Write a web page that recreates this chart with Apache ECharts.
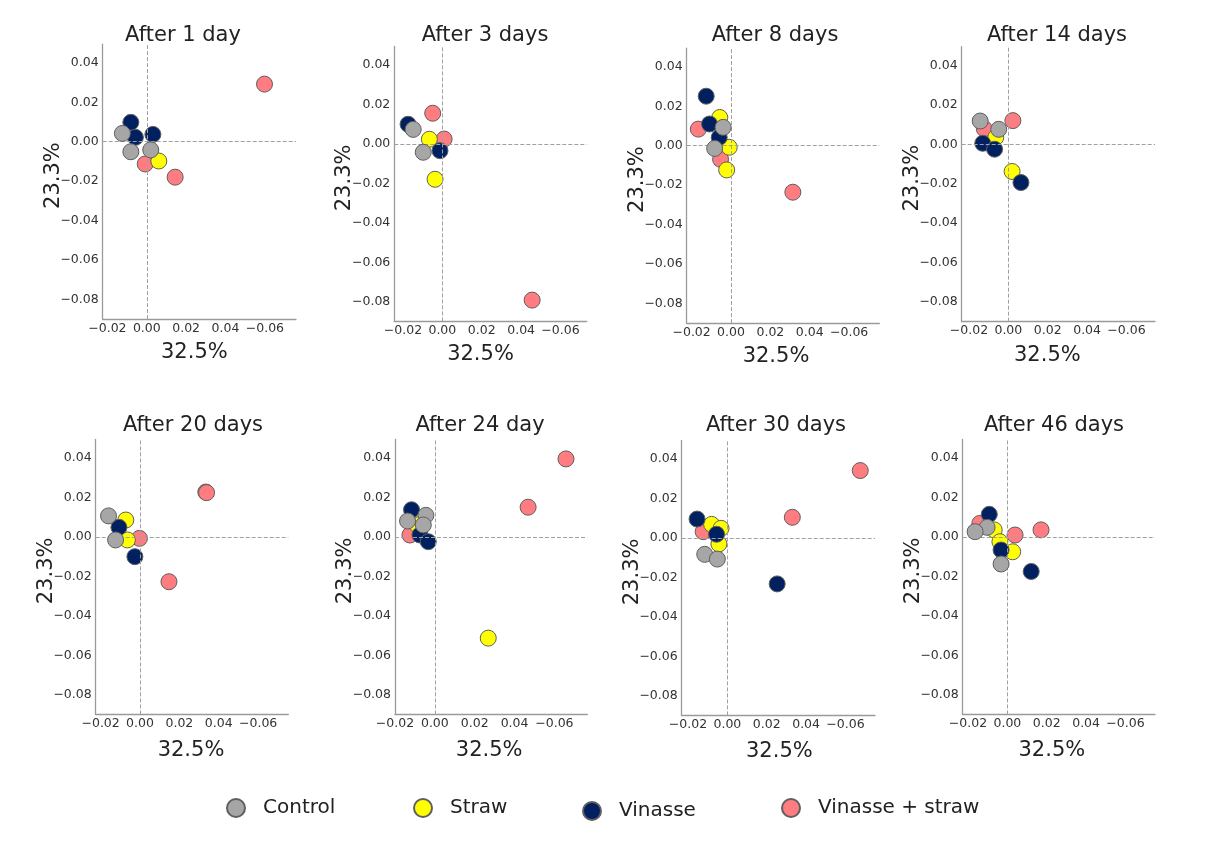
<!DOCTYPE html>
<html>
<head>
<meta charset="utf-8">
<script src="https://cdn.jsdelivr.net/npm/echarts@6/dist/echarts.min.js"></script>
<style>
  html, body { margin: 0; padding: 0; background: #ffffff; }
  #chart { width: 1209px; height: 841px; }
</style>
</head>
<body>
<div id="chart"></div>
<script>
// PCA scores of the four treatments, one panel per sampling day
const panelTitles = ['After 1 day', 'After 3 days', 'After 8 days', 'After 14 days',
                     'After 20 days', 'After 24 day', 'After 30 days', 'After 46 days'];
const groups = ['Control', 'Straw', 'Vinasse', 'Vinasse + straw'];
const xAxisName = '32.5%';
const yAxisName = '23.3%';
const xTickValues = [-0.02, 0, 0.02, 0.04, 0.06];
const xTickLabels = ['\u22120.02', '0.00', '0.02', '0.04', '\u22120.06'];
const yTickValues = [0.04, 0.02, 0, -0.02, -0.04, -0.06, -0.08];
const yTickLabels = ['0.04', '0.02', '0.00', '\u22120.02', '\u22120.04', '\u22120.06', '\u22120.08'];

// [PC1, PC2] per replicate, one list per panel (same order as panelTitles)
const control = [
  [[-0.0124, 0.0042], [-0.0081, -0.0051], [0.0020, -0.0042]],
  [[-0.0148, 0.0074], [-0.0097, -0.0042]],
  [[-0.0040, 0.0093], [-0.0083, -0.0014]],
  [[-0.0143, 0.0118], [-0.0049, 0.0076]],
  [[-0.0160, 0.0107], [-0.0124, -0.0015]],
  [[-0.0137, 0.0081], [-0.0045, 0.0110], [-0.0058, 0.0061]],
  [[-0.0115, -0.0083], [-0.0051, -0.0107]],
  [[-0.0103, 0.0049], [-0.0164, 0.0027], [-0.0032, -0.0137]]
];
const straw = [
  [[0.0061, -0.0098]],
  [[-0.0066, 0.0024], [-0.0037, -0.0179]],
  [[-0.0057, 0.0143], [-0.0009, -0.0008], [-0.0022, -0.0123]],
  [[-0.0064, 0.0035], [0.0019, -0.0138]],
  [[-0.0072, 0.0086], [-0.0064, -0.0015]],
  [[-0.0088, 0.0061], [0.0268, -0.0513]],
  [[-0.0080, 0.0069], [-0.0032, 0.0049], [-0.0043, -0.0030]],
  [[-0.0067, 0.0036], [-0.0038, -0.0024], [0.0027, -0.0075]]
];
const vinasse = [
  [[-0.0081, 0.0098], [-0.0058, 0.0022], [0.0031, 0.0037]],
  [[-0.0174, 0.0100], [-0.0012, -0.0034]],
  [[-0.0126, 0.0251], [-0.0109, 0.0110], [-0.0060, 0.0042]],
  [[-0.0130, 0.0005], [-0.0070, -0.0025], [0.0064, -0.0194]],
  [[-0.0107, 0.0049], [-0.0026, -0.0100]],
  [[-0.0117, 0.0138], [-0.0075, 0.0010], [-0.0033, -0.0024]],
  [[-0.0154, 0.0096], [-0.0055, 0.0019], [0.0253, -0.0233]],
  [[-0.0092, 0.0115], [-0.0032, -0.0066], [0.0121, -0.0175]]
];
const vinasseStraw = [
  [[0.0598, 0.0292], [-0.0008, -0.0113], [0.0144, -0.0180]],
  [[-0.0049, 0.0156], [0.0009, 0.0025], [0.0456, -0.0792]],
  [[-0.0166, 0.0084], [-0.0053, -0.0069], [0.0314, -0.0236]],
  [[-0.0122, 0.0078], [0.0023, 0.0120]],
  [[0.0334, 0.0228], [0.0338, 0.0225], [-0.0003, -0.0007], [0.0147, -0.0227]],
  [[0.0658, 0.0396], [0.0468, 0.0151], [-0.0125, 0.0010]],
  [[0.0675, 0.0342], [0.0330, 0.0105], [-0.0123, 0.0032]],
  [[-0.0140, 0.0069], [0.0039, 0.0010], [0.0171, 0.0036]]
];
const groupData = [control, straw, vinasse, vinasseStraw];

// ---- presentation ----
const FONT = 'DejaVu Sans';
const groupColors = ['#a6a6a6', '#ffff00', '#002060', '#ff7c80'];
const groupZ = [5, 3, 4, 2];

// plot boxes: pixel rectangle of each panel plus its axis window
const panelBoxes = [
  { left: 102.7, top: 44.1,  width: 193.3, xMin: -0.0224, xMax: 0.0758, titleX: 178,  nameDx: -5 },
  { left: 394.3, top: 46.4,  width: 192.4, xMin: -0.0244, xMax: 0.0733, titleX: 480,  nameDx: -10 },
  { left: 686.7, top: 48.1,  width: 192.6, xMin: -0.0225, xMax: 0.0753, titleX: 770,  nameDx: -7 },
  { left: 961.7, top: 46.7,  width: 193.3, xMin: -0.0237, xMax: 0.0745, titleX: 1052, nameDx: -11 },
  { left: 95.7,  top: 439.4, width: 192.6, xMin: -0.0225, xMax: 0.0753, titleX: 188,  nameDx: -1 },
  { left: 395,   top: 439.4, width: 192.3, xMin: -0.0200, xMax: 0.0765, titleX: 475,  nameDx: -2 },
  { left: 681.7, top: 440.4, width: 193.3, xMin: -0.0232, xMax: 0.0750, titleX: 771,  nameDx: 1 },
  { left: 962.7, top: 439.4, width: 192.3, xMin: -0.0227, xMax: 0.0750, titleX: 1049, nameDx: -7 }
];
const Y_MIN = -0.09, Y_MAX = 0.0495, PLOT_H = 275;
const titleTops = [20, 410];
const xNameGaps = [23, 26];
const legendLefts = [221, 408, 577, 776];
const legendTops = [793, 793, 796, 793];

function tickText(values, labels, v) {
  const i = values.findIndex(t => Math.abs(t - v) < 1e-9);
  return i < 0 ? '' : labels[i];
}

const grids = [], xAxes = [], yAxes = [], titles = [], series = [];
panelBoxes.forEach((b, p) => {
  const row = p < 4 ? 0 : 1;
  grids.push({ left: b.left, top: b.top, width: b.width, height: PLOT_H });
  const axisLine = { show: true, onZero: false, lineStyle: { color: '#9a9a9a', width: 1.3 } };
  xAxes.push({
    type: 'value', gridIndex: p, min: b.xMin, max: b.xMax,
    axisLine: axisLine, axisTick: { show: false }, splitLine: { show: false },
    axisLabel: {
      customValues: xTickValues, margin: 3, fontSize: 12.5, color: '#333', fontFamily: FONT,
      formatter: v => tickText(xTickValues, xTickLabels, v)
    },
    name: xAxisName, nameLocation: 'middle', nameGap: xNameGaps[row],
    nameTextStyle: {
      fontSize: 21, color: '#222', fontFamily: FONT,
      padding: b.nameDx < 0 ? [0, -2 * b.nameDx, 0, 0] : [0, 0, 0, 2 * b.nameDx]
    }
  });
  yAxes.push({
    type: 'value', gridIndex: p, min: Y_MIN, max: Y_MAX,
    axisLine: axisLine, axisTick: { show: false }, splitLine: { show: false },
    axisLabel: {
      customValues: yTickValues, margin: 4, fontSize: 12.5, color: '#333', fontFamily: FONT,
      formatter: v => tickText(yTickValues, yTickLabels, v)
    },
    name: yAxisName, nameLocation: 'middle', nameGap: 39, nameMoveOverlap: false,
    nameTextStyle: { fontSize: 21, color: '#222', fontFamily: FONT, padding: [0, 0, 0, 12] }
  });
  titles.push({
    text: panelTitles[p], left: b.titleX, top: titleTops[row], textAlign: 'center',
    textStyle: { fontSize: 21, fontWeight: 'normal', color: '#222', fontFamily: FONT }
  });
  // dashed reference lines through the origin
  series.push({
    type: 'scatter', xAxisIndex: p, yAxisIndex: p, data: [], z: 1, silent: true,
    markLine: {
      silent: true, symbol: 'none', animation: false, label: { show: false },
      lineStyle: { type: 'dashed', dashOffset: 0, color: '#a0a0a0', width: 1 },
      data: [{ xAxis: 0 }, { yAxis: 0 }]
    }
  });
  groups.forEach((g, k) => {
    series.push({
      name: g, type: 'scatter', xAxisIndex: p, yAxisIndex: p, z: groupZ[k],
      symbol: 'circle', symbolSize: 16,
      itemStyle: { color: groupColors[k], borderColor: '#5f5f5f', borderWidth: 1, opacity: 1 },
      emphasis: { disabled: true },
      data: groupData[k][p]
    });
  });
});

const legends = groups.map((g, k) => ({
  data: [g], left: legendLefts[k], top: legendTops[k], icon: 'circle',
  itemWidth: 18, itemHeight: 18, selectedMode: false,
  textStyle: { fontSize: 20, color: '#222', fontFamily: FONT, padding: [0, 0, 0, 13] }
}));

const chart = echarts.init(document.getElementById('chart'), null, { renderer: 'canvas' });
chart.setOption({
  animation: false,
  backgroundColor: '#ffffff',
  textStyle: { fontFamily: FONT },
  title: titles,
  legend: legends,
  grid: grids,
  xAxis: xAxes,
  yAxis: yAxes,
  series: series
});
</script>
</body>
</html>
